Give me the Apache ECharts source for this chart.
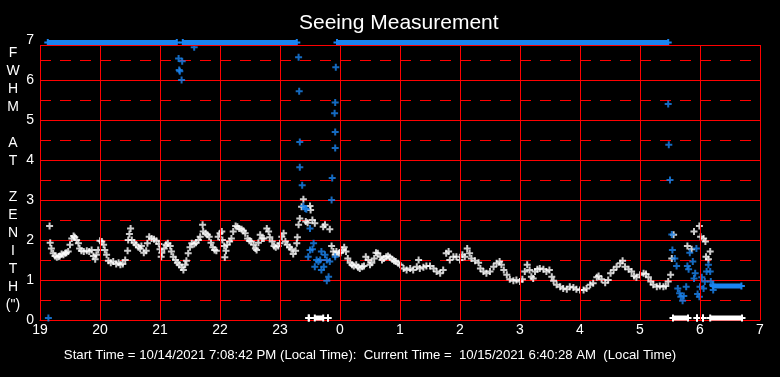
<!DOCTYPE html>
<html>
<head>
<meta charset="utf-8">
<script src="https://cdn.jsdelivr.net/npm/echarts@6/dist/echarts.min.js"></script>
<style>
  html, body { margin: 0; padding: 0; background: #000; }
  #chart { width: 780px; height: 377px; }
</style>
</head>
<body>
<div id="chart"></div>
<script>
// hours run past midnight as 24+, labels wrap back with % 24
const hourTicks = [19, 20, 21, 22, 23, 24, 25, 26, 27, 28, 29, 30, 31]

// main seeing trace (white)
const whiteFwhm = [
  [19.16, 2.35], [19.17, 1.93], [19.19, 1.79], [19.22, 1.67], [19.25, 1.6], [19.28, 1.57], [19.31, 1.58], [19.33, 1.6],
  [19.36, 1.65], [19.39, 1.63], [19.42, 1.67], [19.44, 1.68], [19.47, 1.71], [19.5, 1.88], [19.53, 2.04], [19.56, 2.1],
  [19.58, 2.07], [19.61, 2.0], [19.64, 1.92], [19.66, 1.79], [19.69, 1.73], [19.73, 1.71], [19.78, 1.73], [19.82, 1.71],
  [19.86, 1.75], [19.89, 1.6], [19.92, 1.52], [19.94, 1.63], [19.97, 1.75], [20.0, 1.98], [20.03, 1.96], [20.06, 1.88],
  [20.08, 1.75], [20.11, 1.63], [20.14, 1.48], [20.18, 1.43], [20.22, 1.46], [20.27, 1.4], [20.31, 1.43], [20.34, 1.38],
  [20.38, 1.4], [20.42, 1.5], [20.46, 1.73], [20.47, 2.0], [20.49, 2.15], [20.51, 2.29], [20.53, 2.0], [20.57, 1.93],
  [20.6, 1.88], [20.64, 1.82], [20.67, 1.79], [20.69, 1.85], [20.73, 1.68], [20.77, 1.73], [20.79, 1.92], [20.82, 2.08],
  [20.86, 2.04], [20.9, 2.02], [20.94, 1.98], [20.98, 1.9], [21.0, 1.77], [21.02, 1.58], [21.03, 1.68], [21.07, 1.79],
  [21.1, 1.88], [21.13, 1.92], [21.17, 1.85], [21.19, 1.71], [21.22, 1.58], [21.26, 1.5], [21.29, 1.43], [21.32, 1.38],
  [21.36, 1.32], [21.39, 1.25], [21.42, 1.38], [21.44, 1.48], [21.47, 1.67], [21.5, 1.82], [21.53, 1.92], [21.57, 1.9],
  [21.6, 1.93], [21.64, 2.0], [21.67, 2.08], [21.71, 2.38], [21.72, 2.21], [21.76, 2.17], [21.79, 2.13], [21.82, 2.08],
  [21.85, 1.93], [21.88, 1.82], [21.91, 1.75], [21.94, 1.73], [21.97, 2.08], [22.0, 2.17],
  [22.03, 2.21], [22.04, 2.0], [22.07, 1.85], [22.08, 1.57], [22.1, 1.73], [22.12, 1.88], [22.16, 1.96], [22.19, 2.04],
  [22.22, 2.21], [22.26, 2.35], [22.29, 2.33], [22.32, 2.29], [22.36, 2.27], [22.39, 2.23], [22.42, 2.17], [22.46, 2.04],
  [22.49, 1.98], [22.52, 1.96], [22.56, 1.88], [22.59, 1.79], [22.61, 1.75], [22.64, 1.93], [22.67, 2.13], [22.7, 2.04],
  [22.73, 2.04], [22.78, 2.29], [22.81, 2.21], [22.83, 2.07], [22.87, 1.96], [22.9, 1.85], [22.93, 1.82], [22.97, 1.85],
  [23.0, 1.92], [23.03, 2.08], [23.06, 2.17], [23.09, 1.96], [23.12, 1.88], [23.16, 1.82], [23.19, 1.77], [23.22, 1.65],
  [23.26, 1.73], [23.28, 1.92], [23.29, 2.07],
  [23.31, 2.38], [23.33, 2.54], [23.36, 2.83], [23.39, 3.02], [23.43, 2.46], [23.46, 2.43], [23.5, 2.85], [23.51, 2.75],
  [23.54, 2.5], [23.58, 2.42], [23.72, 2.33], [23.75, 2.38], [23.83, 2.27],
  [23.86, 1.85], [23.89, 1.71], [23.92, 1.63], [23.94, 1.71], [23.98, 1.67], [24.01, 1.68], [24.04, 1.75], [24.07, 1.82],
  [24.1, 1.71], [24.13, 1.54], [24.17, 1.43], [24.2, 1.38], [24.23, 1.35], [24.27, 1.38], [24.3, 1.32], [24.33, 1.29],
  [24.37, 1.33], [24.4, 1.35], [24.43, 1.58], [24.47, 1.5], [24.5, 1.38], [24.53, 1.43], [24.57, 1.54], [24.6, 1.68],
  [24.63, 1.67], [24.67, 1.58], [24.7, 1.5], [24.73, 1.54], [24.77, 1.58], [24.8, 1.6], [24.83, 1.57], [24.87, 1.52],
  [24.9, 1.48], [24.93, 1.46], [24.97, 1.42], [25.0, 1.38],
  [25.06, 1.29], [25.11, 1.25], [25.17, 1.29], [25.22, 1.25], [25.28, 1.33], [25.31, 1.5], [25.33, 1.29], [25.39, 1.32],
  [25.44, 1.35], [25.5, 1.35], [25.56, 1.29], [25.61, 1.21], [25.67, 1.17], [25.72, 1.25], [25.77, 1.67], [25.81, 1.71],
  [25.83, 1.5], [25.89, 1.58], [25.94, 1.58], [26.0, 1.5], [26.04, 1.63], [26.08, 1.58], [26.12, 1.79], [26.16, 1.67],
  [26.19, 1.54], [26.25, 1.48], [26.31, 1.43], [26.34, 1.29], [26.39, 1.21], [26.44, 1.17], [26.5, 1.21], [26.56, 1.33],
  [26.61, 1.42], [26.66, 1.46], [26.69, 1.38], [26.73, 1.25], [26.78, 1.13], [26.83, 1.02], [26.89, 0.98], [26.94, 1.0],
  [27.0, 0.96], [27.04, 1.02], [27.08, 1.21], [27.12, 1.38], [27.16, 1.25], [27.19, 1.08], [27.22, 1.04], [27.25, 1.21],
  [27.29, 1.27], [27.33, 1.29], [27.39, 1.27], [27.44, 1.21], [27.49, 1.25], [27.53, 1.08], [27.56, 0.98], [27.61, 0.88],
  [27.67, 0.83], [27.72, 0.79], [27.78, 0.77], [27.83, 0.83], [27.89, 0.81], [27.94, 0.77], [28.0, 0.75],
  [28.06, 0.75], [28.11, 0.79], [28.17, 0.88], [28.22, 0.92], [28.28, 1.07], [28.31, 1.1], [28.36, 1.02], [28.42, 0.93],
  [28.47, 1.0], [28.51, 1.17], [28.56, 1.25], [28.61, 1.33], [28.67, 1.42], [28.71, 1.48], [28.75, 1.33], [28.81, 1.27],
  [28.86, 1.21], [28.9, 1.1], [28.94, 1.07], [29.0, 1.13], [29.06, 1.17], [29.1, 1.15], [29.14, 1.07], [29.18, 0.96],
  [29.22, 0.88], [29.28, 0.83], [29.33, 0.85], [29.39, 0.83], [29.43, 0.85], [29.47, 0.96], [29.51, 1.13],
  [29.53, 1.54], [29.56, 2.13], [29.79, 1.85], [29.86, 1.77], [29.9, 2.21], [29.99, 2.35], [30.01, 2.08], [30.06, 2.04],
  [30.09, 1.96], [30.1, 1.58], [30.14, 1.52], [30.17, 1.71]
]

// second estimate (blue) - scattered readings
const blueFwhm = [
  [19.14, 0.05],
  [21.31, 6.54], [21.37, 6.47], [21.32, 6.25], [21.33, 6.22], [21.36, 6.0], [21.57, 6.82],
  [23.31, 6.57], [23.32, 5.72], [23.33, 4.45], [23.33, 3.82], [23.37, 3.37], [23.39, 2.85], [23.42, 2.79], [23.44, 2.77],
  [23.5, 2.29], [23.56, 1.92], [23.5, 1.75], [23.54, 1.77], [23.47, 1.58], [23.61, 1.5], [23.64, 1.46], [23.67, 1.5],
  [23.69, 1.71], [23.75, 1.63], [23.78, 1.5], [23.83, 1.46], [23.58, 1.33], [23.73, 1.33], [23.69, 1.25], [23.81, 1.08],
  [23.78, 0.98], [23.92, 1.58], [23.86, 3.0], [23.87, 3.55], [23.91, 5.17], [23.92, 5.44], [23.93, 6.32], [23.92, 4.7],
  [23.92, 4.3],
  [29.47, 5.4], [29.48, 4.38], [29.5, 3.5], [29.53, 2.14], [29.54, 1.75], [29.58, 1.54], [29.61, 1.35], [29.63, 0.79],
  [29.66, 0.67], [29.68, 0.58], [29.71, 0.48], [29.73, 0.6], [29.77, 0.83], [29.79, 1.35], [29.81, 1.27], [29.83, 1.68],
  [29.88, 1.46], [29.92, 1.17], [29.9, 1.04], [29.94, 1.79], [29.96, 0.65], [29.99, 0.58], [30.0, 0.83], [30.03, 1.07],
  [30.06, 0.79], [30.08, 0.96], [30.11, 1.21], [30.14, 1.38], [30.17, 1.21], [30.18, 0.96], [30.21, 0.88], [30.22, 0.75]
]

// long runs of readings sitting on the same value: [start, end, value]
const blueRuns = [[19.13, 21.28, 6.94], [21.38, 23.28, 6.94], [23.95, 29.47, 6.94], [30.22, 30.69, 0.85]]
const whiteRuns = [[23.48, 23.48, 0.05], [23.58, 23.72, 0.05], [23.8, 23.8, 0.05], [29.55, 29.8, 0.05],
  [29.95, 29.95, 0.05], [30.05, 30.05, 0.05], [30.17, 30.7, 0.05]]

const frameTop = 6.875

const plus = 'path://M0,2.5H7V4.5H0Z M2.5,0H4.5V7H2.5Z'
const font = 'Liberation Sans, Arial, sans-serif'
const red = '#ff0000'
const blue = '#1a84f0'

const chart = echarts.init(document.getElementById('chart'))

function runSeries(runs, color) {
  return runs.map(r => ({
    type: 'line',
    data: [[r[0], r[2]], [r[1], r[2]]],
    symbol: plus,
    symbolSize: 7,
    showSymbol: true,
    itemStyle: { color: color },
    lineStyle: { color: color, width: 5 },
    z: color === blue ? 4 : 3,
    silent: true,
  }))
}

const frameLines = hourTicks.map(h => [{ coord: [h, 0] }, { coord: [h, frameTop] }])
frameLines.push([{ coord: [hourTicks[0], frameTop] }, { coord: [hourTicks[hourTicks.length - 1], frameTop] }])

chart.setOption({
  backgroundColor: '#000',
  animation: false,
  title: {
    text: 'Seeing Measurement',
    left: 294,
    top: 8,
    textStyle: { color: '#fff', fontSize: 21, fontWeight: 'normal', fontFamily: font },
  },
  grid: { left: 40, right: 20, top: 40, bottom: 57 },
  xAxis: {
    type: 'value',
    min: 19,
    max: 31,
    interval: 1,
    axisLine: { show: true, lineStyle: { color: red, width: 1 } },
    axisTick: { show: false },
    splitLine: { show: false },
    axisLabel: {
      color: '#fff',
      fontSize: 14,
      fontFamily: font,
      margin: 3,
      formatter: v => String(v % 24),
    },
  },
  yAxis: {
    type: 'value',
    min: 0,
    max: 7,
    interval: 1,
    axisLine: { show: false },
    axisTick: { show: false },
    axisLabel: { color: '#fff', fontSize: 14, fontFamily: font, margin: 6 },
    splitLine: { show: true, showMaxLine: false, lineStyle: { color: red, width: 1 } },
    minorTick: { show: false, splitNumber: 2 },
    minorSplitLine: { show: true, lineStyle: { color: red, width: 1, type: [11, 9] } },
  },
  graphic: [
    {
      type: 'text',
      x: 13,
      y: 44,
      style: {
        text: 'F\nW\nH\nM\n\nA\nT\n\nZ\nE\nN\nI\nT\nH\n(")',
        fill: '#fff',
        fontSize: 14,
        fontFamily: font,
        lineHeight: 18,
        align: 'center',
        verticalAlign: 'top',
      },
    },
    {
      type: 'text',
      x: 370,
      y: 355,
      style: {
        text: 'Start Time = 10/14/2021 7:08:42 PM (Local Time):  Current Time =  10/15/2021 6:40:28 AM  (Local Time)',
        fill: '#fff',
        fontSize: 13.2,
        fontFamily: font,
        align: 'center',
        verticalAlign: 'middle',
      },
    },
  ],
  series: [
    {
      type: 'line',
      data: [],
      silent: true,
      z: 1,
      markLine: {
        silent: true,
        symbol: 'none',
        label: { show: false },
        lineStyle: { color: red, width: 1, type: 'solid' },
        data: frameLines,
      },
    },
    ...runSeries(whiteRuns, '#fff'),
    {
      type: 'scatter',
      data: whiteFwhm,
      symbol: plus,
      symbolSize: 7,
      itemStyle: { color: '#fff' },
      z: 3,
    },
    ...runSeries(blueRuns, blue),
    {
      type: 'scatter',
      data: blueFwhm,
      symbol: plus,
      symbolSize: 7,
      itemStyle: { color: blue },
      z: 4,
    },
  ],
})
</script>
</body>
</html>
